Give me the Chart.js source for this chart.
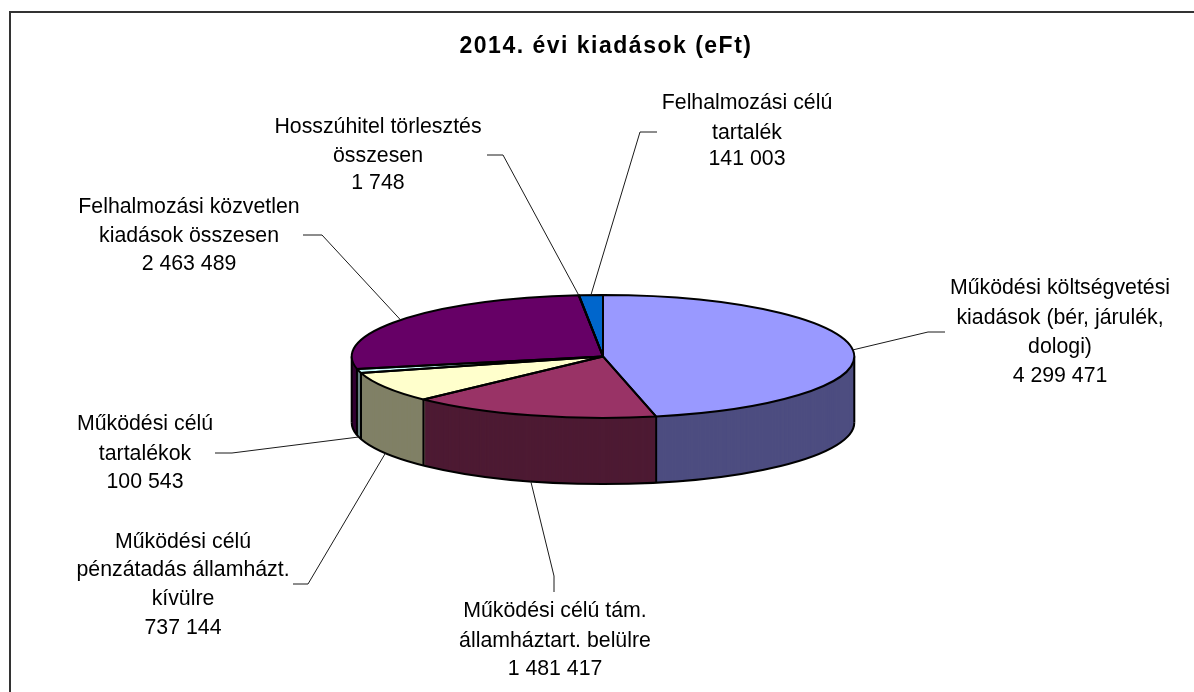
<!DOCTYPE html>
<html lang="hu">
<head>
<meta charset="utf-8">
<title>2014. évi kiadások (eFt)</title>
<script src="https://cdn.jsdelivr.net/npm/chart.js@4"></script>
<style>
html,body{margin:0;padding:0;background:#fff;overflow:hidden}
#wrap{position:relative;width:1194px;height:692px}
</style>
</head>
<body>
<div id="wrap"><canvas id="c" width="1194" height="692"></canvas></div>
<script>
const chartTitle = '2014. évi kiadások (eFt)';
const categories = [
  'Működési költségvetési kiadások (bér, járulék, dologi)',
  'Működési célú tám. államháztart. belülre',
  'Működési célú pénzátadás államházt. kívülre',
  'Működési célú tartalékok',
  'Felhalmozási közvetlen kiadások összesen',
  'Hosszúhitel törlesztés összesen',
  'Felhalmozási célú tartalék'
];
const values = [4299471, 1481417, 737144, 100543, 2463489, 1748, 141003];
const topColors = ['#9999FF', '#993366', '#FFFFCC', '#CCFFFF', '#660066', '#FF8080', '#0066CC'];
const sideColors = ['#4D4D80', '#4D1A33', '#808066', '#668080', '#330033', '#804040', '#003366'];
const labelBreaks = [
  ['Működési költségvetési', 'kiadások (bér, járulék,', 'dologi)'],
  ['Működési célú tám.', 'államháztart. belülre'],
  ['Működési célú', 'pénzátadás államházt.', 'kívülre'],
  ['Működési célú', 'tartalékok'],
  ['Felhalmozási közvetlen', 'kiadások összesen'],
  ['Hosszúhitel törlesztés', 'összesen'],
  ['Felhalmozási célú', 'tartalék']
];

const TILT = 61.5 / 251.3, DEPTH = 66;
const labelLayout = [
  {x: 1060, ys: [288, 318, 347, 376], elbow: [[945, 332], [928, 332]], side: false},
  {x: 555,  ys: [611, 641, 669],      elbow: [[554, 592], [554, 576]], side: true},
  {x: 183,  ys: [542, 570, 599, 628], elbow: [[293, 584], [308, 584]], side: true},
  {x: 145,  ys: [424, 454, 482],      elbow: [[215, 453], [232, 453]], side: true},
  {x: 189,  ys: [207, 236, 264],      elbow: [[303, 235], [322, 235]], side: false},
  {x: 378,  ys: [127, 156, 183],      elbow: [[487, 155], [503, 155]], side: false},
  {x: 747,  ys: [103, 133, 159],      elbow: [[657, 132], [640, 132]], side: false}
];
const fmt = v => String(v).replace(/\B(?=(\d{3})+$)/g, ' ');

const pie3d = {
  id: 'pie3d',
  beforeDraw(chart) {
    const {ctx} = chart;
    ctx.save();
    ctx.fillStyle = '#333333';
    ctx.fillRect(9, 11, 2, 681);
    ctx.fillRect(9, 11, 1185, 2);
    ctx.restore();
    ctx.save();
    ctx.translate(3, 0);
    ctx.letterSpacing = '1.5px';
  },
  beforeDatasetDraw(chart, args) {
    const {ctx} = chart;
    ctx.restore();
    const arcs = args.meta.data;
    const {x: cx, y: cy} = arcs[0];
    const R = arcs[0].outerRadius, Ry = R * TILT;
    // extruded side: the library's arcs repeated downward in the darker colours
    for (let d = DEPTH; d >= 1; d--) {
      arcs.forEach((el, i) => {
        const saved = el.options;
        el.options = Object.assign({}, saved, {backgroundColor: sideColors[i], borderWidth: 0});
        ctx.save();
        ctx.translate(cx, cy + d);
        ctx.scale(1, TILT);
        ctx.translate(-cx, -cy);
        el.draw(ctx);
        ctx.restore();
        el.options = saved;
      });
    }
    // side outlines
    ctx.save();
    ctx.strokeStyle = '#000';
    ctx.lineWidth = 2;
    ctx.beginPath();
    ctx.ellipse(cx, cy + DEPTH, R, Ry, 0, 0, Math.PI);
    ctx.stroke();
    const vert = a => {
      const px = cx + R * Math.cos(a), py = cy + Ry * Math.sin(a);
      ctx.beginPath();
      ctx.moveTo(px, py);
      ctx.lineTo(px, py + DEPTH);
      ctx.stroke();
    };
    vert(0);
    vert(Math.PI);
    arcs.forEach(el => { if (Math.sin(el.endAngle) > 0) vert(el.endAngle); });
    ctx.restore();
    // top face transform while Chart.js draws the arcs
    ctx.save();
    ctx.translate(cx, cy);
    ctx.scale(1, TILT);
    ctx.translate(-cx, -cy);
  },
  afterDatasetDraw(chart, args) {
    const {ctx} = chart;
    ctx.restore();
    const arcs = args.meta.data;
    const {x: cx, y: cy} = arcs[0];
    const R = arcs[0].outerRadius, Ry = R * TILT;
    ctx.save();
    ctx.strokeStyle = '#000';
    ctx.lineWidth = 2;
    ctx.lineJoin = 'round';
    arcs.forEach(el => {
      ctx.beginPath();
      ctx.moveTo(cx, cy);
      ctx.ellipse(cx, cy, R, Ry, 0, el.startAngle, el.endAngle);
      ctx.closePath();
      ctx.stroke();
    });
    // leader lines and labels
    ctx.lineWidth = 1;
    ctx.strokeStyle = '#1a1a1a';
    ctx.lineJoin = 'miter';
    arcs.forEach((el, i) => {
      const L = labelLayout[i];
      const a = (el.startAngle + el.endAngle) / 2;
      const ax = cx + R * Math.cos(a), ay = cy + Ry * Math.sin(a) + (L.side ? DEPTH : 0);
      ctx.beginPath();
      ctx.moveTo(L.elbow[0][0], L.elbow[0][1]);
      ctx.lineTo(L.elbow[1][0], L.elbow[1][1]);
      ctx.lineTo(ax, ay);
      ctx.stroke();
    });
    ctx.fillStyle = '#000';
    ctx.font = '21.3px "Liberation Sans", Arial, sans-serif';
    ctx.textAlign = 'center';
    ctx.textBaseline = 'middle';
    labelLayout.forEach((L, i) => {
      const lines = labelBreaks[i].concat(fmt(values[i]));
      lines.forEach((t, j) => ctx.fillText(t, L.x, L.ys[j]));
    });
    ctx.restore();
  }
};

new Chart(document.getElementById('c'), {
  type: 'pie',
  data: {
    labels: categories,
    datasets: [{data: values, backgroundColor: topColors, borderWidth: 0, clip: false}]
  },
  options: {
    responsive: false,
    animation: false,
    radius: 251.3,
    layout: {padding: {left: 12, right: 0, top: 0, bottom: 39.7}},
    plugins: {
      legend: {display: false},
      tooltip: {enabled: false},
      title: {
        display: true,
        text: chartTitle,
        color: '#000',
        font: {family: '"Liberation Sans", Arial, sans-serif', size: 23, weight: 'bold', lineHeight: 1.2},
        padding: {top: 33, bottom: 0}
      }
    }
  },
  plugins: [pie3d]
});
</script>
</body>
</html>
